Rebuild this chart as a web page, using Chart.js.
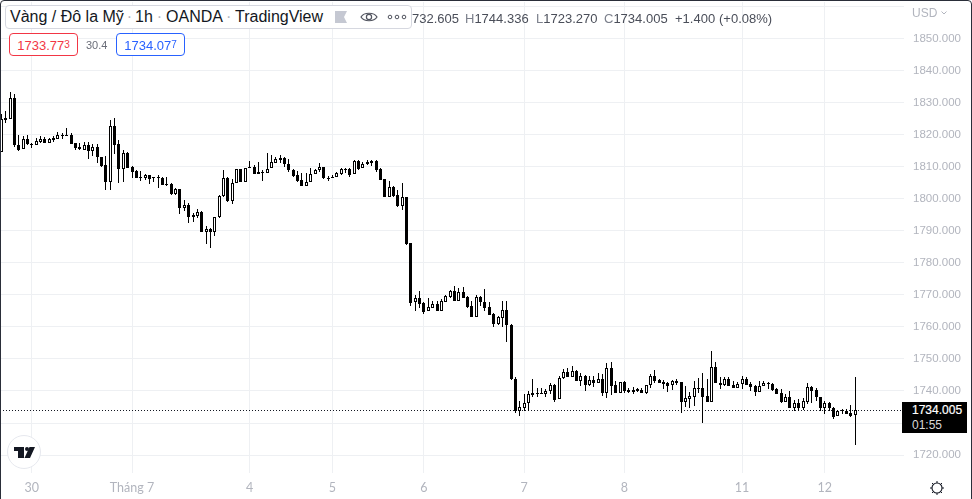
<!DOCTYPE html>
<html lang="vi">
<head>
<meta charset="utf-8">
<title>Vàng / Đô la Mỹ</title>
<script src="https://cdn.jsdelivr.net/npm/chart.js@4"></script>
<style>
  html, body { margin: 0; padding: 0; background: #fff; overflow: hidden; }
  #wrap { position: relative; width: 972px; height: 499px; font-family: "Liberation Sans", Arial, sans-serif; overflow: hidden; }
  #wrap canvas { position: absolute; left: 0; top: 0; }
  #frame { position: absolute; left: 0; top: 0; width: 970px; height: 560px; border: 1px solid #2a2e39; border-radius: 4px 4px 0 0; pointer-events: none; }
  .abs { position: absolute; white-space: nowrap; }
  #title { left: 5px; top: 5px; width: 405px; height: 22px; border: 1px solid #d6d8e0; border-radius: 4px; background: #fff; }
  #titleText { left: 4px; top: 1px; font-size: 16px; line-height: 20px; color: #131722; }
  #titleText i { font-style: normal; color: #b2b5be; }
  .ohlc { top: 11px; font-size: 13px; line-height: 16px; color: #4a4e59; }
  .ohlc b { font-weight: normal; color: #7c808c; }
  .pill { top: 33px; height: 21px; line-height: 21px; border-radius: 4px; font-size: 13px; text-align: center; background: #fff; }
  .pill small { font-size: 10px; vertical-align: 2px; }
  #sell { left: 9px; width: 67px; border: 1px solid #f23645; color: #f23645; }
  #buy { left: 116px; width: 67px; border: 1px solid #2962ff; color: #2962ff; }
  #spread { left: 86px; top: 38px; font-size: 11px; line-height: 14px; color: #6a6d78; }
  #usd { left: 912px; top: 6px; font-size: 12px; line-height: 14px; color: #b2b5be; }
  #tag { left: 902px; top: 402px; width: 65px; height: 31px; background: #000; color: #fff; font-size: 12px; -webkit-text-stroke: 0.2px #fff; }
  #tag div { padding-left: 10px; line-height: 15px; }
  #tag .t { color: #d8d8d8; -webkit-text-stroke: 0; }
  svg { position: absolute; overflow: visible; }
</style>
</head>
<body>
<div id="wrap">
  <canvas id="chart" width="972" height="499"></canvas>
  <div id="title" class="abs"><span id="titleText" class="abs">Vàng / Đô la Mỹ <i style="margin:0 -1.5px">·</i> 1h <i style="margin:0 -.5px">·</i> OANDA <i style="margin:0 -.5px">·</i> TradingView</span></div>
  <svg style="left:0;top:0" width="420" height="30">
    <path d="M335 11h12l-3 6 3 6h-12z" fill="#c5c8d2"/>
    <path d="M361 17c3-5 13-5 16 0c-3 5-13 5-16 0z" fill="none" stroke="#50535e" stroke-width="1.2"/>
    <circle cx="369" cy="17" r="2.6" fill="none" stroke="#50535e" stroke-width="1.2"/>
    <circle cx="390" cy="17" r="1.8" fill="none" stroke="#50535e"/>
    <circle cx="397" cy="17" r="1.8" fill="none" stroke="#50535e"/>
    <circle cx="404" cy="17" r="1.8" fill="none" stroke="#50535e"/>
  </svg>
  <div class="abs ohlc" style="left:412px">732.605</div>
  <div class="abs ohlc" style="left:465px"><b>H</b>1744.336</div>
  <div class="abs ohlc" style="left:536px"><b>L</b>1723.270</div>
  <div class="abs ohlc" style="left:604px"><b>C</b>1734.005</div>
  <div class="abs ohlc" style="left:675px">+1.400</div>
  <div class="abs ohlc" style="left:719px">(+0.08%)</div>
  <div id="sell" class="abs pill">1733.77<small>3</small></div>
  <div id="spread" class="abs">30.4</div>
  <div id="buy" class="abs pill">1734.07<small>7</small></div>
  <div id="usd" class="abs">USD</div>
  <svg style="left:941px;top:11px" width="6" height="4"><path d="M.5 .5L3 3L5.5 .5" fill="none" stroke="#b2b5be"/></svg>
  <div id="tag" class="abs"><div style="margin-top:1px">1734.005</div><div class="t">01:55</div></div>
  <svg style="left:7px;top:435px" width="34" height="34">
    <circle cx="17" cy="17" r="16.5" fill="#fff" stroke="#e6e8ee"/>
    <path d="M7 12h10v11h-6v-7H7z M22.5 12h5.5l-5 11h-5.5z" fill="#131722"/>
    <circle cx="20" cy="14" r="2" fill="#131722"/>
  </svg>
  <svg style="left:929px;top:480px" width="16" height="16">
    <circle cx="8" cy="8" r="5" fill="none" stroke="#131722" stroke-width="1.1"/>
    <path d="M8 1v2M8 13v2M1 8h2M13 8h2M3 3l1.4 1.4M11.6 11.6L13 13M13 3l-1.4 1.4M4.4 11.6L3 13" stroke="#131722" stroke-width="1"/>
  </svg>
  <div id="frame"></div>
</div>
<script>
// candles, oldest first
const opens = [
  1814.7,1825.1,1825.0,1831.3,1816.8,1815.4,1818.5,1817.0,1816.6,1817.8,
  1818.5,1817.5,1818.9,1818.6,1820.0,1819.9,1819.9,1817.3,1816.2,1815.3,
  1816.8,1815.0,1816.1,1812.9,1810.5,1805.3,1822.7,1817.1,1809.2,1814.4,
  1809.8,1808.5,1806.9,1806.6,1807.3,1806.7,1806.7,1806.6,1804.6,1804.6,
  1801.3,1803.0,1797.2,1798.0,1794.8,1794.5,1795.9,1789.7,1790.6,1789.7,
  1794.2,1800.7,1806.5,1799.4,1804.8,1809.3,1805.3,1810.0,1810.0,1808.3,
  1808.3,1807.9,1809.5,1811.2,1812.6,1812.8,1810.8,1809.0,1807.3,1805.7,
  1803.9,1805.1,1807.6,1808.9,1809.8,1806.6,1806.9,1806.7,1807.8,1809.1,
  1809.2,1807.6,1811.8,1809.5,1810.7,1811.7,1811.8,1809.3,1806.0,1800.6,
  1803.6,1801.2,1797.7,1800.4,1786.3,1767.6,1769.0,1767.4,1764.8,1766.0,
  1767.0,1764.8,1767.9,1769.4,1771.2,1768.2,1770.9,1769.4,1766.5,1763.2,
  1769.2,1767.7,1766.2,1763.9,1761.0,1762.9,1765.2,1760.5,1743.6,1733.8,
  1734.8,1736.2,1739.3,1739.3,1739.3,1738.9,1739.9,1741.8,1737.4,1744.0,
  1745.8,1744.2,1746.2,1743.2,1744.7,1742.0,1743.3,1742.6,1743.6,1739.5,
  1747.1,1741.9,1739.5,1742.8,1740.4,1739.7,1740.6,1740.3,1739.3,1741.8,
  1744.7,1743.3,1742.8,1742.4,1741.8,1743.0,1742.8,1736.4,1737.6,1738.2,
  1741.0,1740.8,1738.4,1736.7,1747.6,1742.4,1742.0,1743.6,1741.9,1741.0,
  1742.1,1743.8,1742.2,1741.6,1739.8,1741.5,1742.5,1742.2,1740.6,1739.3,
  1736.7,1738.0,1734.7,1736.2,1734.7,1736.7,1741.2,1740.3,1738.0,1734.7,
  1736.2,1734.8,1732.1,1734.0,1733.7,1733.0,1732.4
];
const closes = [
  1824.8,1824.6,1831.3,1816.6,1815.2,1818.6,1817.0,1816.6,1817.9,1818.7,
  1817.5,1818.5,1818.4,1819.9,1819.8,1819.7,1817.2,1815.9,1815.4,1816.8,
  1815.0,1816.1,1812.9,1810.3,1805.3,1822.7,1816.8,1809.2,1814.3,1809.5,
  1808.4,1806.6,1806.6,1807.3,1806.2,1806.3,1806.3,1804.3,1804.4,1801.3,
  1803.1,1797.2,1797.9,1794.4,1794.4,1795.8,1789.7,1790.6,1789.7,1794.2,
  1800.7,1806.5,1799.3,1804.9,1809.2,1805.3,1809.5,1809.5,1807.8,1807.8,
  1808.0,1809.4,1811.4,1812.3,1812.1,1810.7,1808.8,1807.2,1805.6,1803.9,
  1805.1,1807.6,1808.9,1809.9,1806.4,1806.3,1806.7,1807.9,1809.1,1808.9,
  1807.4,1811.8,1809.4,1810.9,1811.5,1811.2,1809.0,1805.9,1800.6,1803.6,
  1800.8,1797.7,1800.4,1785.9,1767.4,1768.9,1767.2,1764.6,1766.1,1767.0,
  1764.8,1768.0,1769.6,1771.1,1768.2,1770.8,1769.1,1766.3,1763.2,1769.2,
  1767.6,1766.0,1763.8,1761.0,1763.0,1765.2,1760.5,1743.6,1733.8,1734.9,
  1736.3,1739.0,1738.8,1739.0,1738.9,1739.9,1741.8,1737.2,1744.0,1745.8,
  1744.2,1746.1,1743.2,1744.7,1742.0,1743.3,1742.6,1743.6,1739.5,1747.1,
  1741.6,1739.5,1742.7,1740.1,1739.7,1740.4,1740.0,1739.5,1741.8,1744.7,
  1743.2,1742.5,1742.2,1741.7,1743.0,1742.6,1736.4,1737.7,1738.4,1740.8,
  1740.7,1738.2,1736.6,1747.6,1742.4,1742.0,1743.6,1741.7,1741.0,1742.1,
  1743.6,1742.0,1741.2,1739.8,1741.5,1742.4,1742.1,1740.3,1739.2,1736.6,
  1738.0,1734.7,1736.2,1734.7,1736.8,1741.2,1740.1,1738.0,1734.6,1736.2,
  1734.7,1731.8,1733.7,1733.7,1732.9,1732.2,1734.0
];
const highs = [
  1826.3,1827.2,1833.2,1832.7,1819.9,1819.4,1819.9,1817.3,1819.0,1819.4,
  1819.2,1818.8,1819.4,1820.9,1820.6,1822.2,1820.4,1817.5,1817.5,1817.8,
  1817.8,1817.1,1817.1,1813.1,1813.4,1824.4,1825.1,1818.3,1815.2,1814.7,
  1810.2,1809.0,1808.6,1807.7,1807.4,1806.9,1807.3,1806.9,1806.7,1804.8,
  1803.3,1803.0,1799.6,1798.8,1795.4,1796.8,1796.1,1791.6,1791.0,1794.4,
  1801.2,1809.0,1806.7,1806.0,1809.2,1809.3,1809.5,1811.7,1810.5,1811.4,
  1809.0,1814.2,1813.6,1812.9,1813.6,1813.1,1812.3,1809.3,1808.6,1807.9,
  1807.9,1809.5,1809.2,1811.0,1810.0,1807.1,1807.4,1808.4,1809.5,1809.7,
  1809.5,1812.0,1812.1,1811.4,1812.1,1812.1,1812.1,1809.7,1806.2,1805.5,
  1804.0,1802.7,1804.8,1800.4,1786.3,1770.0,1771.2,1767.6,1768.9,1768.1,
  1768.1,1768.6,1770.0,1771.5,1772.8,1772.0,1772.4,1769.6,1768.1,1770.0,
  1769.6,1771.8,1767.9,1764.2,1763.5,1768.1,1768.1,1760.8,1744.3,1736.9,
  1739.1,1740.0,1743.6,1740.8,1740.8,1740.6,1742.4,1742.1,1744.7,1746.8,
  1747.1,1747.8,1746.6,1745.7,1745.0,1744.7,1744.7,1745.5,1745.2,1748.6,
  1749.1,1743.0,1742.8,1743.1,1740.8,1741.2,1740.8,1740.8,1741.8,1745.2,
  1746.6,1743.6,1743.4,1742.9,1743.4,1743.8,1742.9,1741.7,1739.6,1743.1,
  1744.0,1745.7,1743.6,1752.5,1749.1,1744.5,1744.2,1744.2,1743.2,1742.9,
  1744.7,1744.3,1742.9,1741.9,1743.2,1743.2,1742.9,1742.6,1741.0,1740.5,
  1739.0,1740.0,1737.2,1737.6,1737.7,1742.4,1741.6,1740.8,1738.0,1736.9,
  1736.7,1735.1,1734.1,1734.4,1734.3,1735.6,1744.4
];
const lows = [
  1814.7,1823.7,1825.0,1816.2,1815.0,1815.4,1816.8,1815.9,1816.6,1817.5,
  1817.3,1817.5,1817.8,1818.5,1818.5,1819.7,1817.2,1815.3,1815.2,1815.2,
  1812.5,1813.3,1811.2,1810.0,1802.7,1802.7,1814.0,1804.8,1805.2,1809.5,
  1806.4,1806.6,1805.6,1805.8,1804.6,1805.3,1803.3,1804.3,1804.0,1801.2,
  1801.1,1795.2,1796.3,1792.5,1792.8,1793.9,1789.5,1785.8,1784.5,1788.5,
  1793.9,1800.6,1799.1,1798.2,1804.8,1805.3,1805.3,1809.5,1807.8,1807.8,
  1805.6,1807.9,1809.5,1811.0,1811.2,1809.8,1808.4,1806.7,1805.3,1803.8,
  1803.8,1805.1,1807.6,1808.4,1806.0,1805.6,1806.7,1806.7,1807.4,1808.1,
  1806.9,1807.6,1809.0,1809.5,1810.5,1810.3,1808.4,1805.8,1800.6,1800.6,
  1800.6,1797.5,1796.5,1785.6,1766.5,1765.1,1766.0,1764.0,1764.8,1765.8,
  1764.8,1764.8,1767.9,1768.9,1768.2,1768.2,1768.9,1766.0,1763.2,1763.2,
  1766.5,1765.1,1763.7,1760.1,1760.6,1759.9,1755.4,1743.4,1733.0,1732.3,
  1733.8,1733.6,1738.0,1738.0,1738.9,1738.2,1739.1,1736.7,1737.4,1743.6,
  1744.2,1744.2,1743.2,1741.4,1740.1,1741.4,1741.2,1742.4,1738.4,1737.9,
  1738.8,1739.5,1739.5,1739.3,1739.3,1739.0,1739.7,1739.3,1739.0,1741.0,
  1742.6,1742.4,1740.5,1739.8,1740.3,1742.0,1733.2,1735.1,1734.7,1735.3,
  1739.3,1730.1,1736.4,1736.7,1742.4,1740.7,1741.6,1741.6,1740.8,1740.8,
  1740.7,1741.9,1740.0,1738.4,1739.8,1741.4,1740.6,1740.0,1739.1,1736.1,
  1736.7,1734.7,1733.9,1733.9,1734.1,1735.9,1736.2,1737.0,1733.9,1732.8,
  1733.8,1731.3,1732.1,1732.8,1732.8,1731.8,1723.2
];
const lastPrice = 1734.005;

// price axis
const priceTicks = [1860, 1850, 1840, 1830, 1820, 1810, 1800, 1790, 1780, 1770, 1760, 1750, 1740, 1730, 1720];
const priceLabelSkip = [1860, 1730];
// time axis: which candle carries which label
const timeTickCandles = [7, 30, 57, 76, 97, 120, 143, 170, 189];
const timeTickLabels = ["30", "Tháng 7", "4", "5", "6", "7", "8", "11", "12"];

const X_MIN = -0.3;
const X_MAX = 207.18;

// keep the plot area exactly where the axes say, labels must not push it in
const noAxisPadding = (axis) => {
  axis.paddingTop = 0;
  axis.paddingBottom = 0;
  axis.paddingLeft = 0;
  axis.paddingRight = 0;
};

// sharp pixels like the original, tiny bodies keep at least 1px
const pixelSnap = {
  id: "pixelSnap",
  afterDatasetsUpdate(chart) {
    chart.data.datasets.forEach((ds, i) => {
      chart.getDatasetMeta(i).data.forEach((el) => {
        if (ds.type === "line") {
          el.y = Math.floor(el.y) + 0.5;
          return;
        }
        el.x = Math.round(el.x - 0.5) + 0.5;
        const top = Math.round(Math.min(el.y, el.base));
        let bottom = Math.round(Math.max(el.y, el.base));
        if (bottom <= top) bottom = top + 1;
        el.y = top;
        el.base = bottom;
      });
    });
  },
};

new Chart(document.getElementById("chart"), {
  type: "bar",
  plugins: [pixelSnap],
  data: {
    datasets: [
      {
        type: "line",
        data: [{ x: X_MIN, y: lastPrice }, { x: X_MAX, y: lastPrice }],
        borderColor: "#131722",
        borderWidth: 1,
        borderDash: [1, 2],
        pointRadius: 0,
        order: 3,
      },
      {
        data: highs.map((h, i) => ({ x: i, y: [lows[i], h] })),
        backgroundColor: "#000",
        barThickness: 1,
        grouped: false,
        inflateAmount: 0,
        order: 2,
      },
      {
        data: opens.map((o, i) => ({ x: i, y: [o, closes[i]] })),
        backgroundColor: opens.map((o, i) => (closes[i] >= o ? "#fff" : "#000")),
        borderColor: "#000",
        borderWidth: 1,
        borderSkipped: false,
        barThickness: 3,
        grouped: false,
        inflateAmount: 0,
        order: 1,
      },
    ],
  },
  options: {
    responsive: false,
    animation: false,
    events: [],
    layout: { autoPadding: false, padding: { top: 2, left: 0, right: 0, bottom: 0 } },
    plugins: { legend: { display: false }, tooltip: { enabled: false } },
    scales: {
      x: {
        type: "linear",
        offset: false,
        min: X_MIN,
        max: X_MAX,
        afterBuildTicks: (axis) => {
          axis.ticks = timeTickCandles.map((value) => ({ value }));
        },
        afterFit: (axis) => {
          axis.height = 26;
          noAxisPadding(axis);
        },
        grid: { color: "#eef0f3", offset: false, drawTicks: false },
        border: { display: false },
        ticks: {
          autoSkip: false,
          maxRotation: 0,
          padding: 7,
          color: "#b2b5be",
          font: { family: "Lato", size: 12.5 },
          callback: (value) => timeTickLabels[timeTickCandles.indexOf(value)],
        },
      },
      y: {
        position: "right",
        min: 1714.4,
        max: 1861.36,
        afterBuildTicks: (axis) => {
          axis.ticks = priceTicks.map((value) => ({ value }));
        },
        afterFit: (axis) => {
          axis.width = 68;
          noAxisPadding(axis);
        },
        grid: { color: "#eef0f3", drawTicks: false },
        border: { display: false },
        ticks: {
          autoSkip: false,
          padding: 9,
          color: "#b2b5be",
          font: { family: "Liberation Sans", size: 11.5 },
          callback: (value) => (priceLabelSkip.includes(value) ? "" : value.toFixed(3)),
        },
      },
    },
  },
});
</script>
</body>
</html>
